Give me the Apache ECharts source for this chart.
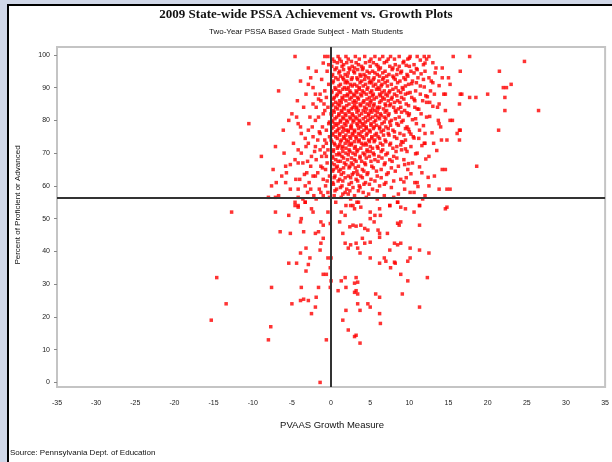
<!DOCTYPE html>
<html><head><meta charset="utf-8">
<script src="https://cdn.jsdelivr.net/npm/echarts@6/dist/echarts.min.js"></script>
<style>
html,body{margin:0;padding:0;background:#d0d7e8;width:612px;height:462px;overflow:hidden}
#box{position:absolute;left:7px;top:4px;width:640px;height:480px;background:#fff;border-left:2px solid #000;border-top:2px solid #000}
#chart{position:absolute;left:0;top:0;width:612px;height:462px}
</style></head>
<body><div id="box"></div><div id="chart"></div>
<script>
const titleText = "2009 State-wide PSSA Achievement vs. Growth Plots";
const subtitleText = "Two-Year PSSA Based Grade Subject - Math Students";
const xAxisName = "PVAAS Growth Measure";
const yAxisName = "Percent of Proficient or Advanced";
const sourceText = "Source: Pennsylvania Dept. of Education";
const yTicks = [0,10,20,30,40,50,60,70,80,90,100];
const achievementCut = 56.3;
const growthCut = 0;

// dense cluster, read row by row: [achievement, [growth values...]]
const denseRows = [
 [99.5,[0.9,1.9,3.1,4.3,5.6,6.6,7.6,8.7,10.1,11.0,11.9,12.5,15.6,17.7,-0.8,-4.6]],
 [98,[0.4,2.6,4.9,7.1,9.3,24.7,1.3]],
 [97,[1.6,3.5,5.8,8.2,10.6,11.8,-0.3]],
 [96,[0.7,2.3,4.1,6.3,7.9,14.2,-2.9,3.0]],
 [95,[1.1,2.9,4.6,5.3,6.9,9.0,10.2,12.0,16.5,21.5,-1.9]],
 [94,[0.2,1.8,3.7,4.2,5.9,7.4,8.4,9.7]],
 [93,[0.6,1.5,2.7,3.3,4.8,5.5,6.7,8.0,9.3,11.1,12.5,14.2,15.0]],
 [92,[0.3,2.0,3.9,5.0,6.1,7.2,8.8,10.4,-3.9]],
 [91,[1.2,2.5,3.0,4.4,5.7,6.5,7.7,9.9,15.2,23.0,-2.9]],
 [90,[0.5,1.7,3.6,4.7,6.0,8.3,9.1,22.0,22.4,-2.3,2.2]],
 [89,[0.1,1.0,2.4,3.2,4.0,5.2,6.8,7.5,8.6,10.8,12.7,-6.7,-0.8]],
 [88,[0.8,2.1,2.9,3.8,4.5,5.4,6.2,7.0,8.1,9.5,11.4,13.2,14.4,14.6,16.5,16.7,20.0,-3.2,-2.0,-1.4]],
 [87,[0.4,1.4,2.6,3.4,4.9,5.8,6.6,7.8,9.0,10.3,17.7,18.5,-0.6,22.2]],
 [86,[1.1,1.9,3.0,4.2,5.1,6.4,7.3,8.5,11.7,-1.3]],
 [85,[0.2,0.9,2.3,3.7,4.6,5.5,6.9,7.6,9.6,13.8,16.4,-2.3]],
 [84,[0.6,1.6,2.8,3.3,4.3,5.9,6.2,8.0,8.9,10.7,13.6,-1.9,-0.4]],
 [83,[0.3,1.3,2.2,3.5,4.1,5.0,5.6,7.1,8.2,9.4,14.6,22.2,26.5,-0.8]],
 [82,[0.0,1.0,1.8,2.7,3.9,4.8,6.3,7.4,10.0,11.5,-5.0,-1.0]],
 [81,[0.7,1.5,2.4,3.1,4.4,5.3,6.0,6.8,8.7,12.2,-4.4,-2.7,-1.6]],
 [80,[0.1,1.2,2.0,2.9,3.6,4.7,5.7,7.7,9.2,15.2,15.5,-5.4,-2.0]],
 [79,[0.5,0.9,1.7,3.3,4.0,5.1,6.5,8.4,10.9,13.8,-10.5,-4.2,-0.3]],
 [78,[0.3,1.4,2.5,3.8,4.5,5.5,6.2,7.0,9.7,14.0,-3.9,-1.1]],
 [77,[0.8,1.9,2.2,3.0,4.2,4.9,6.7,7.9,11.3,16.4,16.5,21.4,-2.9,-0.6]],
 [76,[0.2,1.1,2.7,3.5,4.6,5.8,7.3,8.8,12.0,16.1,-3.8,-1.4]],
 [75,[0.6,1.6,2.4,3.2,4.0,5.2,6.0,8.1,10.5,-2.3,-0.2]],
 [74,[0.0,1.3,2.0,3.6,4.8,5.6,6.9,9.5,14.8,16.4,-1.7]],
 [73,[0.4,1.8,2.6,3.9,4.4,6.3,7.6,11.9,13.1,12.0,-2.9,-0.6]],
 [72,[0.9,1.5,3.1,5.0,5.9,8.4,10.2,-7.1,-3.2,-2.0,-1.0]],
 [71,[0.3,2.3,3.4,4.6,6.6,9.0,-4.2,-1.4,-0.4]],
 [70,[1.0,1.9,2.8,4.1,5.4,7.2,11.0,-3.8,-0.8]],
 [69,[0.2,1.4,3.7,4.9,6.1,8.0,12.5,-8.9,-2.5,-1.2]],
 [68,[0.6,2.1,3.0,5.6,7.5,9.3,-4.6,-1.9]],
 [67,[0.1,1.7,2.6,4.3,6.9,10.4,-4.2,-3.6,-0.5]],
 [66,[0.8,2.4,3.5,5.2,8.6,18.6,-5.8,-2.6,-1.3]],
 [65,[0.3,1.2,4.0,6.4,9.8,14.2,14.6,-7.4,-0.7]],
 [64,[1.6,2.9,4.7,7.3,11.6,-5.7,-3.1,-1.7]],
 [63,[0.5,2.2,3.8,5.9,13.2,-6.3,-2.3,-0.2]],
 [62,[1.1,3.2,5.1,8.9,-4.0,-1.0]],
 [61,[0.2,2.6,4.4,7.0,10.7,-7.0,-5.8,-2.8]],
 [60,[1.4,3.6,6.2,12.5,-7.6,-3.3,-0.7]],
 [59,[0.7,2.0,5.3,9.4,13.8,14.8,15.2,-5.2,-4.2,-1.5]],
 [58,[1.8,4.1,10.1,10.6,-3.0,-0.4]],
 [57,[0.4,3.0,6.8,12.0,-6.7,-2.2,-1.0]],
 [56.5,[1.3,4.5,8.0,-8.0,-7.1,-4.2,-0.2]],
 [56,[2.5,5.9,11.7,-3.6,-1.9]],
 [55,[0.6,3.3,8.5,-3.3,-4.6]],
 [54,[1.9,2.8,7.5,11.3,-4.2]]
];

// second pass through the dense core, between the rows above
const coreRows = [
 [98.7,[0.2,1.1,2.2,3.6,5.1,6.2,7.3,8.1,9.8,12.2]],
 [97.6,[0.8,2.0,3.2,4.4,5.4,6.8,9.2,13.0]],
 [96.5,[0.1,1.4,2.7,3.9,5.0,6.0,7.5,8.7,10.0]],
 [95.5,[0.5,1.6,2.4,3.4,4.0,6.1,7.8,8.5,11.0]],
 [94.5,[1.0,2.2,3.0,4.9,5.6,6.6,8.9,10.6,13.3]],
 [93.5,[0.1,1.2,2.1,3.8,4.4,6.2,7.1,7.9,9.8]],
 [92.5,[0.9,1.6,2.6,3.4,4.3,5.4,6.6,8.2,9.5,11.8]],
 [91.5,[0.2,1.8,2.1,3.7,4.9,5.2,6.9,8.5,10.9,13.0]],
 [90.5,[1.0,2.7,3.3,4.1,5.4,6.4,7.2,9.5,11.4]],
 [89.5,[0.6,1.5,2.0,3.6,4.6,5.8,6.2,7.9,9.2]],
 [88.5,[0.1,1.2,2.5,3.3,4.2,5.0,6.5,7.4,8.9,10.1]],
 [87.5,[0.7,1.7,2.1,3.0,3.9,5.3,6.3,7.2,8.4,12.1]],
 [86.5,[0.3,1.5,2.4,3.5,4.6,5.5,6.8,7.7,9.3,10.6]],
 [85.5,[0.6,1.3,2.8,3.2,4.1,5.0,6.2,8.1,8.8,12.6]],
 [84.5,[0.1,1.1,2.0,3.0,3.8,4.9,5.4,7.0,7.5,9.9]],
 [83.5,[0.8,1.7,2.6,3.2,4.5,5.3,6.0,6.7,8.6,11.0]],
 [82.5,[0.4,1.4,2.3,3.3,4.4,5.2,5.9,6.9,8.3,9.0]],
 [81.5,[0.1,1.0,1.9,2.8,3.6,4.8,5.7,6.4,7.3,9.9]],
 [80.5,[0.5,1.6,2.5,3.3,4.1,5.0,6.2,7.0,8.2,10.8]],
 [79.5,[0.2,1.2,2.1,2.8,3.7,4.4,5.5,6.8,7.5,9.0]],
 [78.5,[0.7,1.9,2.6,3.4,4.2,5.1,5.8,7.6,8.6]],
 [77.5,[0.1,1.0,1.6,2.6,3.5,4.5,5.4,6.2,7.3,9.5]],
 [76.5,[0.6,1.5,2.2,3.0,3.9,5.0,6.4,8.1,10.0]],
 [75.5,[0.2,1.1,1.9,2.8,3.7,4.5,5.6,6.7,7.4,9.3]],
 [74.5,[0.8,1.7,2.5,3.2,4.2,5.2,6.2,8.4,11.2]],
 [73.5,[0.1,1.2,2.2,3.0,3.5,4.9,5.5,7.0,9.0]],
 [72.5,[0.5,1.1,2.3,2.6,4.1,4.5,6.6,7.5,8.9]],
 [71.5,[0.8,1.4,1.9,3.0,3.8,5.3,6.0,7.9]],
 [70.5,[0.3,1.5,2.4,3.3,4.6,5.0,6.4,8.3,9.7]],
 [69.5,[0.7,1.1,2.2,3.1,4.3,5.5,7.0]],
 [68.5,[0.2,1.6,2.6,3.7,4.5,6.5,8.4]],
 [67.5,[0.9,1.2,3.2,3.9,5.1,6.0,7.8]],
 [66.5,[0.4,1.9,2.8,4.4,6.8,9.4]],
 [65.5,[0.7,1.6,2.3,3.1,5.4,7.7]],
 [64.5,[0.2,1.0,3.3,4.2,5.8,8.2]],
 [63.5,[1.3,2.7,3.4,4.6,7.1]],
 [62.5,[0.4,1.8,2.5,4.0,6.4,9.6]],
 [61.5,[0.9,1.5,3.4,5.6,8.0]],
 [60.5,[0.3,2.3,4.2,4.9,6.8]],
 [59.5,[1.2,2.8,3.7,7.7]],
 [58.5,[0.5,2.4,3.5,5.9]],
 [57.5,[1.5,2.2,4.8,8.6]]
];

// right fringe of the cluster: [growth, achievement]
const rightFringePoints = [
 [9.6,96.8],[10.9,95.8],[11.5,94.2],[12.8,92.0],[10.3,91.2],[11.9,90.2],[9.8,88.3],[12.3,87.2],
 [10.7,86.0],[13.0,84.3],[11.2,83.4],[9.7,82.3],[12.6,81.2],[10.4,80.2],[11.8,78.4],[9.9,77.3],
 [12.9,76.2],[10.6,74.6],[11.6,72.3],[9.5,71.3],[10.8,69.8],[12.1,68.2],[9.9,66.8],[11.3,65.8],
 [10.2,63.7],[12.4,62.6],[9.3,61.2],[11.1,59.8],[13.5,70.8],[14.1,74.0],[13.7,80.0],[12.0,97.5],
 [13.4,96.0],[10.0,99.0],[11.4,98.4],[13.8,90.6],[12.2,85.5],[10.2,75.8],[9.2,73.3],[11.0,61.0]
];

// schools just left of the zero-growth line, upper half: [growth, achievement]
const upperLeftPoints = [
 [-0.5,95],[-1.2,92.5],[-0.3,91],[-1.6,86.5],[-0.9,85],[-0.2,79.5],[-2.4,78],[-1.5,76.5],
 [-0.8,74],[-3.3,74.5],[-2.1,70.5],[-0.6,69],[-3.0,67.5],[-1.1,65.5],[-2.0,63],[-0.5,61.5],
 [-4.5,62],[-2.6,59],[-1.3,58],[-5.2,66.5],[-6.0,70],[-4.8,73],[-3.5,84],[-4.3,86],
 [-2.6,93],[-1.0,97.5],[-0.4,99.5],[-6.1,77],[-3.4,63.5]
];

// sparser schools below the achievement cut: [growth, achievement]
const lowerPoints = [
 [-12.7,52],[-7.1,52],[-4.6,54],[-4.2,53.5],[-3.3,55],[-2.5,53],[-2.3,52],[-5.4,51],
 [-3.8,50],[-3.9,49],[-6.5,46],[-5.2,45.5],[-3.5,46],[-2.0,45.5],[-1.6,46],[-1.3,49],
 [-1.0,48],[-0.4,52],[-0.1,48.5],[-1.0,44],[-1.3,42.5],[-3.2,41],[-3.9,39.5],[-5.4,36.4],
 [-4.4,36.4],[-3.2,34],[-2.9,36],[-2.7,38],[-1.4,40.4],[-0.4,38],[0.0,38],[-1.0,33],
 [-0.6,33],[-0.1,35],[0.0,31],[-0.1,29],[-14.6,32],[-7.6,29],[-3.8,29],[-1.6,29],
 [-13.4,24],[-5.0,24],[-3.9,25],[-3.5,25.4],[-2.9,25],[-2.0,23],[-1.9,26],[-2.5,21],
 [-15.3,19],[-7.7,17],[-8.0,13],[-0.6,13],[-1.4,0],
 [1.3,52],[1.8,51],[2.5,54],[3.0,53],[3.5,55],[3.8,53.5],[5.0,52],[5.6,51],[6.2,53],
 [6.3,51],[7.5,54],[8.5,55],[8.9,53.5],[9.5,53],[10.6,52],[11.3,54],[14.6,53],[14.8,53.5],
 [1.1,49],[2.4,47.5],[2.8,48],[3.2,47.7],[3.8,48],[4.3,47],[4.7,46.5],[5.0,50],[5.5,49],
 [6.0,46.5],[6.2,45.5],[7.2,45.5],[8.5,48.6],[8.9,49],[8.7,48],[11.3,48],[1.5,45.5],
 [1.8,42.5],[2.5,42],[2.2,41],[3.2,42.5],[3.4,41],[3.7,39.5],[4.0,44],[4.3,42.5],[5.0,42.8],
 [6.2,44.3],[6.2,36.4],[5.0,38],[6.8,38],[7.0,37],[7.5,40.4],[8.1,42.5],[8.5,42],[8.9,42.5],
 [8.1,36.7],[8.2,36.4],[7.6,35],[10.1,41],[11.3,40.4],[12.5,39.5],[9.8,37],[10.1,38],
 [8.9,33],[9.8,31],[12.3,32],[1.8,32],[1.3,31],[3.2,32],[3.4,30.6],[3.0,30.3],[0.9,28],
 [1.9,29],[3.0,27.5],[3.4,27],[3.2,28],[5.7,27],[6.2,26],[9.1,27],[3.4,24],[3.7,22],
 [1.9,22],[4.7,24],[5.0,23],[6.2,21],[6.3,18],[1.5,19],[2.2,16],[3.0,14],[3.2,14.4],
 [3.7,12],[11.3,23]
];

const points = [];
denseRows.forEach(function(r){ r[1].forEach(function(x){ points.push([x, r[0]]); }); });
coreRows.forEach(function(r){ r[1].forEach(function(x){ points.push([x, r[0]]); }); });
rightFringePoints.forEach(function(p){ points.push(p); });
upperLeftPoints.forEach(function(p){ points.push(p); });
lowerPoints.forEach(function(p){ points.push(p); });

const chart = echarts.init(document.getElementById('chart'), null, {renderer:'canvas'});
chart.setOption({
  animation:false,
  backgroundColor:'transparent',
  grid:{left:57, right:3, top:47, bottom:75, show:true, borderColor:'#c4c4c4', borderWidth:2, backgroundColor:'#fff'},
  xAxis:{type:'value', min:-35, max:35, interval:5,
    axisLine:{show:false, onZero:false}, axisTick:{show:false}, splitLine:{show:false},
    axisLabel:{fontSize:7, color:'#222', margin:13, fontFamily:'Liberation Sans'}},
  yAxis:{type:'value', min:-1.4, max:102.4,
    axisLine:{show:false, onZero:false}, splitLine:{show:false},
    axisTick:{show:true, length:3, inside:false, lineStyle:{color:'#888'}, customValues:yTicks},
    axisLabel:{fontSize:7, color:'#222', margin:7, fontFamily:'Liberation Sans', customValues:yTicks}},
  graphic:[
    {type:'text', left:'center', top:8, style:{text:titleText, font:'bold 13px "Liberation Serif"', fill:'#111'}},
    {type:'text', left:'center', top:28, style:{text:subtitleText, font:'8px "Liberation Sans"', fill:'#111'}},
    {type:'text', x:332, y:425, style:{text:xAxisName, font:'9.5px "Liberation Sans"', fill:'#111', align:'center', verticalAlign:'middle'}},
    {type:'text', x:18, y:205, rotation:Math.PI/2, style:{text:yAxisName, font:'8px "Liberation Sans"', fill:'#111', align:'center', verticalAlign:'middle'}},
    {type:'text', x:10, y:453, style:{text:sourceText, font:'8px "Liberation Sans"', fill:'#111', verticalAlign:'middle'}}
  ],
  series:[{
    type:'scatter', data:points, symbol:'rect', symbolSize:3.5,
    itemStyle:{color:'#ff0000'}, silent:true,
    markLine:{silent:true, symbol:'none', label:{show:false},
      lineStyle:{color:'#333', width:2, type:'solid'},
      data:[{xAxis:growthCut},{yAxis:achievementCut}]}
  }]
});
</script></body></html>
